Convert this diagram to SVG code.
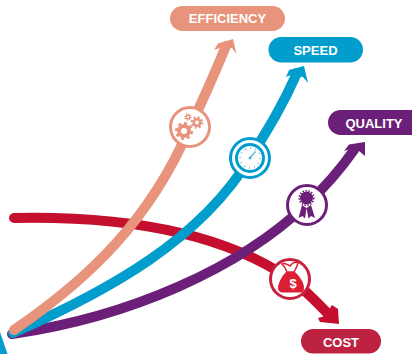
<svg xmlns="http://www.w3.org/2000/svg" width="412" height="354" viewBox="0 0 412 354">
<style>
.c{fill:none;stroke-width:10;stroke-linecap:round}
.t{font-family:"Liberation Sans",Arial,sans-serif;font-size:13px;font-weight:700;fill:#fff;text-anchor:middle}
.r{fill:#fff;stroke-width:3}
</style>
<rect width="412" height="354" fill="#fff"/>
<polygon points="0,332 7.500,354 0,354" fill="#009dcd"/>
<g id="connectors">
<path class="c" stroke="#c50f2e" d="M14 218C110 216 215 228 290 279C303 288 315 300 330 316"/>
<polygon points="332,305 338,309 339,324 320,322 318,318 325,316" fill="#c50f2e"/>
<path class="c" stroke="#6b1f78" d="M12 334C130 317 240 268 307 204C325 187 340 170 354 150"/>
<polygon points="344,151 349,144.500 365,142 365,156 359,151 350,149" fill="#6b1f78"/>
<path class="c" stroke="#009dcd" d="M13 333C110 290 200 240 250 158C268 129 283 105 297 73"/>
<polygon points="286,77 289,70 304,66 308,83 303,77 291,75" fill="#009dcd"/>
<path class="c" stroke="#e8937c" d="M14 330C90 278 150 220 190 127C203 100 214 75 226 46"/>
<polygon points="214,50 218,43.500 233,39 236.500,54 232,48 220,48" fill="#e8937c"/>
</g>
<g id="efficiency">
<rect x="170" y="6" width="115" height="25" rx="12.500" fill="#e8937c"/>
<text class="t" x="227.500" y="23">EFFICIENCY</text>
<circle class="r" cx="190" cy="127" r="19.500" stroke="#e8937c"/>
<g fill="none" stroke="#e8937c">
<circle cx="184" cy="131" r="5" stroke-width="4"/>
<circle cx="184" cy="131" r="7.800" stroke-width="2.500" stroke-dasharray="3 3.100"/>
<circle cx="197" cy="122.500" r="3.300" stroke-width="2.600"/>
<circle cx="197" cy="122.500" r="5.300" stroke-width="2" stroke-dasharray="2 2.160"/>
<circle cx="188" cy="117" r="1.800" stroke-width="1.500"/>
<circle cx="188" cy="117" r="3.200" stroke-width="1.200" stroke-dasharray="1.200 1.310"/>
</g>
</g>
<g id="speed">
<rect x="268.500" y="37" width="94.500" height="25.500" rx="12.700" fill="#009dcd"/>
<text class="t" x="315.500" y="54.500">SPEED</text>
<circle class="r" cx="250" cy="158" r="19.500" stroke="#009dcd"/>
<circle cx="250" cy="158" r="13.500" fill="#fff" stroke="#009dcd" stroke-width="3"/>
<circle cx="250" cy="158" r="10" fill="none" stroke="#7cc8e2" stroke-width="2" stroke-dasharray="1 4.200"/>
<path d="M250 158L255.500 151.500" stroke="#4db6d9" stroke-width="1.200"/>
<circle cx="250" cy="158" r="1.500" fill="#4db6d9"/>
</g>
<g id="quality">
<rect x="328" y="110" width="95" height="25" rx="12.500" fill="#6b1f78"/>
<text class="t" x="374" y="127.500">QUALITY</text>
<circle class="r" cx="307" cy="205" r="19.500" stroke="#6b1f78"/>
<circle cx="306.500" cy="198" r="6.500" fill="#6b1f78"/>
<circle cx="306.500" cy="198" r="7.300" fill="none" stroke="#6b1f78" stroke-width="1.600" stroke-dasharray="1.500 1.500"/>
<path d="M302 205L298.500 218L302.500 216L305 218.500L306.500 208ZM311 205L315 218L311 216L308.500 218.500L306.500 208Z" fill="#6b1f78"/>
</g>
<g id="cost">
<rect x="301" y="329" width="80" height="24.500" rx="12.200" fill="#bd2340"/>
<text class="t" x="341" y="346.500">COST</text>
<circle class="r" cx="290" cy="279" r="19.500" stroke="#c8213f"/>
<path d="M286 272C281 277 278 284 278 288C278 291 280 292.500 283 292.500L300 292.500C303 292.500 304 291 304 288C304 282 299 276 295 272Z" fill="#dc1e35"/>
<path d="M282 264C285 262 288 265 290 266C292 263 296 261 298 263C297 267 295 270 294 272L287 272C286 269 284 266 282 264Z" fill="none" stroke="#dc1e35" stroke-width="1.500"/>
<text x="293" y="288" font-family="Liberation Sans,Arial,sans-serif" font-size="13" font-weight="700" fill="#fff" text-anchor="middle">$</text>
</g>
</svg>
